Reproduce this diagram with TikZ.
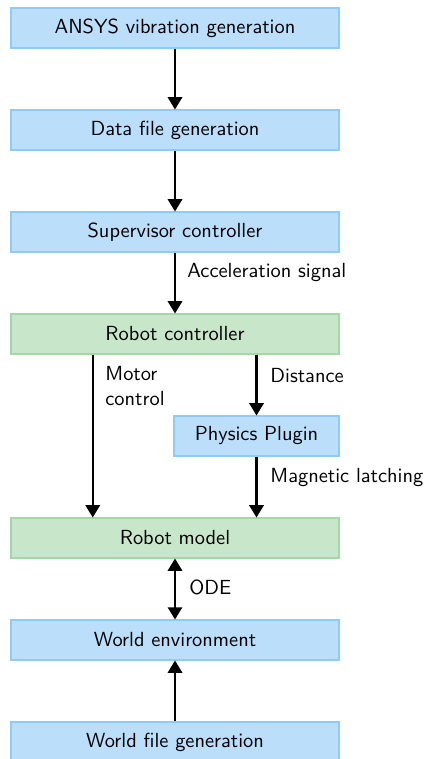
\documentclass[tikz,border=0pt]{standalone}
\usetikzlibrary{arrows.meta,calc}
\definecolor{bfill}{HTML}{BBDEFB}
\definecolor{bdraw}{HTML}{90CAF9}
\definecolor{gfill}{HTML}{C8E6C9}
\definecolor{gdraw}{HTML}{A5D6A7}
\tikzset{
  box/.style={draw=bdraw, fill=bfill, line width=0.5pt, minimum width=328*0.49pt, minimum height=40*0.49pt, inner sep=0pt, font=\sffamily},
  gbox/.style={box, draw=gdraw, fill=gfill},
  arr/.style={line width=1pt, -{Triangle[width=7pt,length=6pt]}},
  darr/.style={line width=1pt, {Triangle[width=7pt,length=6pt]}-{Triangle[width=7pt,length=6pt]}},
  lbl/.style={font=\sffamily, anchor=west, inner sep=0pt, align=left}
}
\begin{document}
\begin{tikzpicture}[x=0.49pt, y=-0.49pt]
\useasboundingbox (0,0) rectangle (427,759);
\node[box] (ansys) at (175,28) {ANSYS vibration generation};
\node[box] (data) at (175,130) {Data file generation};
\node[box] (sup) at (175,232) {Supervisor controller};
\node[gbox] (rc) at (175,334) {Robot controller};
\node[box, minimum width=165*0.49pt] (pp) at (256.5,436) {Physics Plugin};
\node[gbox] (rm) at (175,538) {Robot model};
\node[box] (we) at (175,640) {World environment};
\node[box] (wf) at (175,742) {World file generation};

\draw[arr] (ansys) -- (data);
\draw[arr] (data) -- (sup);
\draw[arr] (sup) -- (rc);
\draw[arr] ($(rc.south west)!0.25!(rc.south east)$) -- ($(rm.north west)!0.25!(rm.north east)$);
\draw[arr] (rc.south -| pp.north) -- (pp.north);
\draw[arr] (pp.south) -- (rm.north -| pp.south);
\draw[darr] (rm) -- (we);
\draw[arr] (wf) -- (we);

\node[lbl] (l1) at (187,273) {Acceleration signal};
\node[lbl] (l2) at (105,386) {Motor\\control};
\node[lbl] (l3) at (270,376) {Distance};
\node[lbl] (l4) at (270,478) {Magnetic latching};
\node[lbl] (l5) at (189,587) {ODE};
\end{tikzpicture}
\end{document}
